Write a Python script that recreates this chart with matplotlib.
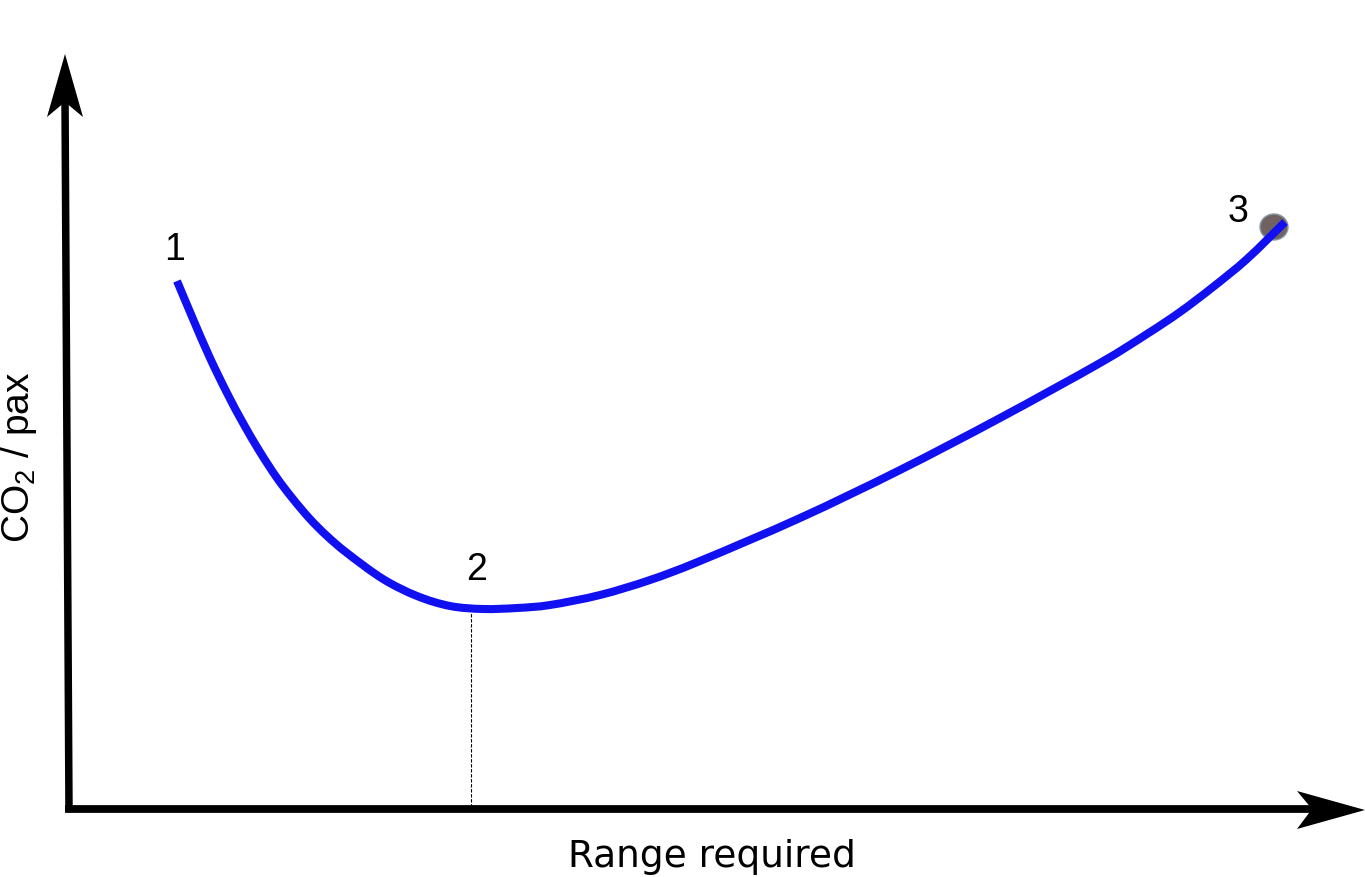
import matplotlib
matplotlib.use("Agg")
import matplotlib.pyplot as plt
from matplotlib.patches import Polygon, Ellipse, PathPatch
from matplotlib.path import Path

# Schematic curve: range required vs CO2/pax (arbitrary units)
range_vals = [109, 125, 142, 159, 175, 192, 209, 225, 242, 259, 279, 315,
              349, 382, 415, 449, 482, 532, 582, 632, 732, 832, 932, 1032,
              1079, 1112, 1145, 1179, 1217]
co2_vals = [528, 490, 451, 416, 386, 357, 331, 310, 290, 273, 256, 230,
            213, 203, 200, 201, 204, 214, 229, 248, 291, 339, 391, 446,
            475, 497, 522, 550, 587]

point_labels = ["1", "2", "3"]
label_x = [107, 409, 1170]
label_y = [560, 240, 598]

optimum_range = 403
optimum_co2 = 197
endpoint = (1206, 582)

x_label = "Range required"
y_label = r"CO$_{\mathregular{2}}$ / pax"

plt.rcParams["mathtext.fontset"] = "custom"
plt.rcParams["mathtext.rm"] = "Liberation Sans"

W, H = 1365, 878
fig = plt.figure(figsize=(W / 100, H / 100), dpi=100)
ax = fig.add_axes([0, 0, 1, 1])
ax.set_xlim(-68, W - 68)
ax.set_ylim(-68, H - 68)
ax.axis("off")

# axes with arrowheads
ax.plot([1, -3], [-2, 710], color="black", lw=5.4, solid_capstyle="butt", zorder=3)
ax.add_patch(Polygon([(-3, 755), (15, 692), (-3, 707), (-21, 692)],
                     closed=True, facecolor="black", edgecolor="none", zorder=4))
ax.plot([-3, 1246], [0, 0], color="black", lw=5.6, solid_capstyle="butt", zorder=3)
ax.add_patch(Polygon([(1297, -1), (1229, 18), (1244, 0), (1229, -20)],
                     closed=True, facecolor="black", edgecolor="none", zorder=4))

# dashed optimum line
ax.plot([optimum_range, optimum_range], [2, optimum_co2], color="black",
        lw=0.8, dashes=(3, 1.5), zorder=2)

# endpoint marker
ax.add_patch(Ellipse(endpoint, 28, 26, facecolor="#706262", edgecolor="#8799a8",
                     lw=1.0, zorder=4))

# smooth curve through the read points (Catmull-Rom as cubic Bezier segments)
pts = list(zip(range_vals, co2_vals))
verts = [pts[0]]
codes = [Path.MOVETO]
n = len(pts)
for i in range(n - 1):
    p0 = pts[i - 1] if i > 0 else pts[i]
    p1 = pts[i]
    p2 = pts[i + 1]
    p3 = pts[i + 2] if i + 2 < n else pts[i + 1]
    c1 = (p1[0] + (p2[0] - p0[0]) / 6.0, p1[1] + (p2[1] - p0[1]) / 6.0)
    c2 = (p2[0] - (p3[0] - p1[0]) / 6.0, p2[1] - (p3[1] - p1[1]) / 6.0)
    verts += [c1, c2, p2]
    codes += [Path.CURVE4, Path.CURVE4, Path.CURVE4]
ax.add_patch(PathPatch(Path(verts, codes), facecolor="none", edgecolor="#1010f0",
                       lw=5.8, capstyle="butt", joinstyle="round", zorder=5))

for t, x, y in zip(point_labels, label_x, label_y):
    ax.text(x, y, t, fontsize=27, family="Liberation Sans", ha="center",
            va="center", color="black", zorder=6)

ax.text(644, -57, x_label, fontsize=27, family="DejaVu Sans", ha="center",
        va="baseline", color="black")
ax.text(-49, 353, y_label, fontsize=28, family="Liberation Sans", rotation=90,
        ha="center", va="center", color="black")

fig.savefig("out.png", dpi=100, facecolor="white")
